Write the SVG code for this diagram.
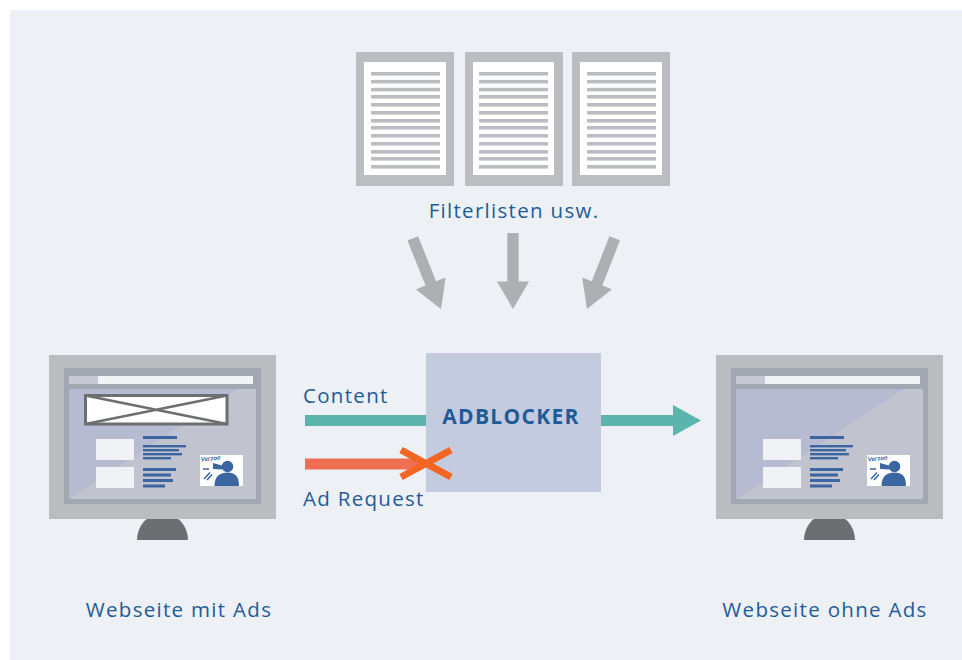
<svg xmlns="http://www.w3.org/2000/svg" xmlns:xlink="http://www.w3.org/1999/xlink" width="962" height="660" viewBox="0 0 962 660">
  <style>
    .label { font-family: "Open Sans", "Noto Sans", sans-serif; font-size: 20.5px; fill: #1f5b97; letter-spacing: 1.3px; }
    .title { font-family: "Open Sans", "Noto Sans", sans-serif; font-size: 21px; font-weight: 700; fill: #1f5b97; letter-spacing: 1.3px; }
    .doc-frame { fill: #bcbdc0; }
    .doc-page { fill: #ffffff; }
    .doc-line { fill: #bcbdc0; }
    .grey-arrow { fill: #aeafb2; }
    .txt-line { fill: #3b66a1; }
    .light-box { fill: #f1f2f5; }
  </style>
  <defs>
    <!-- text lines of one filter list page -->
    <g id="page-lines" class="doc-line">
      <rect x="0" y="0" width="69" height="3.6"/>
      <rect x="0" y="7.9" width="69" height="3.6"/>
      <rect x="0" y="15.8" width="69" height="3.6"/>
      <rect x="0" y="23" width="69" height="3.6"/>
      <rect x="0" y="31" width="69" height="3.6"/>
      <rect x="0" y="39" width="69" height="3.6"/>
      <rect x="0" y="47" width="69" height="3.6"/>
      <rect x="0" y="54" width="69" height="3.6"/>
      <rect x="0" y="62" width="69" height="3.6"/>
      <rect x="0" y="70" width="69" height="3.6"/>
      <rect x="0" y="78" width="69" height="3.6"/>
      <rect x="0" y="85" width="69" height="3.6"/>
      <rect x="0" y="93" width="69" height="3.6"/>
    </g>
    <!-- downward pointing arrow, tip at origin -->
    <path id="down-arrow" class="grey-arrow" d="M-5.7,-76 L5.7,-76 L5.7,-27.5 L16,-27.5 L0,0 L-16,-27.5 L-5.7,-27.5 Z"/>
    <!-- monitor showing a web page, without the ad banner -->
    <g id="monitor">
      <path d="M137,540 A25.5,27 0 0 1 188,540 Z" fill="#6d6e71"/>
      <rect x="49" y="355" width="227" height="164" fill="#bbbcc0"/>
      <rect x="64" y="368" width="197" height="136" fill="#a3a7b2"/>
      <rect x="69" y="389" width="187" height="110" fill="#c1c3ce"/>
      <polygon points="69,389 237,389 69,499" fill="#b6bbd2"/>
      <rect x="69" y="376" width="29" height="8" fill="#c6c9d3"/>
      <rect x="98" y="376" width="155" height="8" fill="#f2f3f5"/>
      <rect class="light-box" x="96" y="439" width="38" height="21"/>
      <rect class="light-box" x="96" y="467" width="38" height="21"/>
      <rect class="txt-line" x="143" y="436" width="34" height="3"/>
      <rect class="txt-line" x="143" y="445" width="43" height="2.4"/>
      <rect class="txt-line" x="143" y="449" width="36" height="2.4"/>
      <rect class="txt-line" x="143" y="453" width="39" height="2.4"/>
      <rect class="txt-line" x="143" y="457" width="28" height="2.4"/>
      <rect class="txt-line" x="143" y="468" width="33" height="3"/>
      <rect class="txt-line" x="143" y="473.5" width="28" height="3"/>
      <rect class="txt-line" x="143" y="479" width="30" height="3"/>
      <rect class="txt-line" x="143" y="484.5" width="22" height="3"/>
      <!-- small picture of a person with a megaphone -->
      <rect x="200" y="455" width="43" height="31" fill="#ffffff"/>
      <circle cx="227.5" cy="466.5" r="5.8" fill="#3b66a1"/>
      <path d="M214.5,486 C214.5,476 220,472.5 227.5,472.5 C235,472.5 239,476 239,486 Z" fill="#3b66a1"/>
      <path d="M213,463 L222,465.5 L222,469.5 L213,469 Z" fill="#3b66a1"/>
      <text x="201" y="461.5" font-family="Liberation Sans, sans-serif" font-size="6" font-style="italic" font-weight="700" fill="#3b66a1" transform="rotate(-6 201 461.5)">Verzoo</text>
      <path d="M203,469 L209,469 M204,479 L210,472.5 M207,480 L212,474.5" stroke="#3b66a1" stroke-width="1.5" fill="none"/>
    </g>
  </defs>

  <!-- background panel -->
  <rect x="10" y="10" width="952" height="650" fill="#edf0f5"/>

  <!-- filter lists -->
  <g id="filterlists">
    <rect class="doc-frame" x="356" y="52" width="98" height="134"/>
    <rect class="doc-page" x="364" y="62" width="82" height="113"/>
    <use xlink:href="#page-lines" x="371" y="72"/>
    <rect class="doc-frame" x="465" y="52" width="98" height="134"/>
    <rect class="doc-page" x="473" y="62" width="81" height="113"/>
    <use xlink:href="#page-lines" x="479" y="72"/>
    <rect class="doc-frame" x="572" y="52" width="98" height="134"/>
    <rect class="doc-page" x="580" y="62" width="82" height="113"/>
    <use xlink:href="#page-lines" x="587" y="72"/>
    <text class="label" x="514" y="218" text-anchor="middle">Filterlisten usw.</text>
  </g>

  <!-- adblocker -->
  <g id="adblocker">
    <rect x="426" y="353" width="175" height="139" fill="#c5cbdf"/>
    <text class="title" x="511" y="424" text-anchor="middle">ADBLOCKER</text>
  </g>

  <!-- website with ads -->
  <g id="website-with-ads">
    <use xlink:href="#monitor"/>
    <rect x="85.5" y="395.5" width="141.5" height="28.5" fill="#ffffff" stroke="#6d6e71" stroke-width="3"/>
    <path d="M85.5,395.5 L227,424 M227,395.5 L85.5,424" stroke="#6d6e71" stroke-width="2.5" fill="none"/>
    <text class="label" x="179" y="617" text-anchor="middle">Webseite mit Ads</text>
  </g>

  <!-- website without ads -->
  <g id="website-without-ads">
    <use xlink:href="#monitor" transform="translate(667 0)"/>
    <text class="label" x="825" y="617" text-anchor="middle">Webseite ohne Ads</text>
  </g>

  <!-- connectors -->
  <g id="connectors">
    <use xlink:href="#down-arrow" transform="translate(441 309) rotate(-21.8)"/>
    <use xlink:href="#down-arrow" transform="translate(513 309)"/>
    <use xlink:href="#down-arrow" transform="translate(587 309) rotate(21.4)"/>

    <rect x="305" y="415" width="121" height="11" fill="#5bb5ad"/>
    <text class="label" x="303" y="403">Content</text>
    <path d="M601,415 L673,415 L673,405 L701,420.5 L673,436 L673,426 L601,426 Z" fill="#5bb5ad"/>

    <rect x="305" y="458.5" width="115" height="11" fill="#ee6f52"/>
    <path d="M401,450 L451,477 M451,450 L401,477" stroke="#f26522" stroke-width="7" fill="none"/>
    <text class="label" x="303" y="505.5">Ad Request</text>
  </g>
</svg>
